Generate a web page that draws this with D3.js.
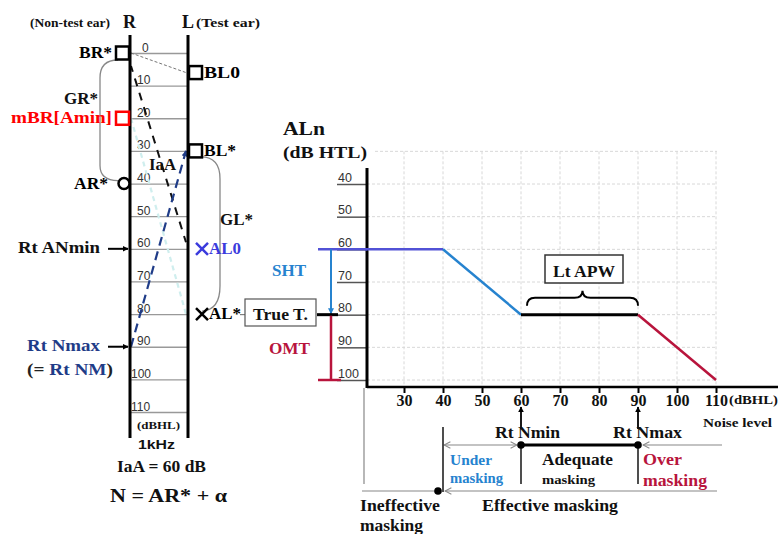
<!DOCTYPE html>
<html>
<head>
<meta charset="utf-8">
<script src="https://cdn.jsdelivr.net/npm/d3@7"></script>
<style>
body { margin: 0; background: #fff; }
svg text { font-family: "Liberation Serif", "Times New Roman", serif; font-weight: bold; }
.num text, text.num { font-family: "Liberation Sans", Arial, sans-serif; font-weight: normal; }
</style>
</head>
<body>
<svg id="chart"></svg>
<script>
// ---- data ----
var ladderTicks = [0, 10, 20, 30, 40, 50, 60, 70, 80, 90, 100, 110];
var ladderMarks = [
    {label: "BR*", side: "R", level: 0, symbol: "square"},
    {label: "BL0", side: "L", level: 6, symbol: "square"},
    {label: "mBR[Amin]", side: "R", level: 20, symbol: "square"},
    {label: "BL*", side: "L", level: 30, symbol: "square"},
    {label: "AR*", side: "R", level: 40, symbol: "circle"},
    {label: "AL0", side: "L", level: 60, symbol: "cross"},
    {label: "AL*", side: "L", level: 80, symbol: "cross"}
];
// dashed lines across the ladder: level on R side -> level on L side
var crossLines = [
    {from: 0, to: 6, kind: "thin"},
    {from: 20, to: 80, kind: "faint"},
    {from: 4, to: 58, kind: "iaa"},
    {from: 90, to: 30, kind: "noise"}
];
var rtArrows = [{label: "Rt ANmin", level: 60}, {label: "Rt Nmax", level: 90}];
var alnTicks = [40, 50, 60, 70, 80, 90, 100];
var gridLevels = [30, 40, 50, 60, 70, 80, 90, 100];
var noiseTicks = [30, 40, 50, 60, 70, 80, 90, 100, 110];
var maskCurve = [
    {noise: 20, aln: 60},
    {noise: 40, aln: 60},
    {noise: 60, aln: 80},
    {noise: 90, aln: 80},
    {noise: 110, aln: 100}
];
var curveColors = ["#5252d6", "#2683cf", "#000", "#b8143c"];
var shtRange = [60, 80];
var omtRange = [80, 100];
var ineffectiveEnd = 40, rtNmin = 60, rtNmax = 90;

var WIDTH = 778, HEIGHT = 534;
var svg = d3.select("#chart").attr("width", WIDTH).attr("height", HEIGHT);

var defs = svg.append("defs");
function arrowHead(id, color, open) {
    var m = defs.append("marker").attr("id", id)
        .attr("viewBox", "0 0 10 10").attr("refX", 9).attr("refY", 5)
        .attr("markerWidth", 6).attr("markerHeight", 6)
        .attr("markerUnits", "userSpaceOnUse")
        .attr("orient", "auto-start-reverse");
    if (open) {
        m.attr("markerWidth", 8).attr("markerHeight", 8);
        m.append("path").attr("d", "M1,1L9,5L1,9").attr("fill", "none").attr("stroke", color).attr("stroke-width", 1.3);
    } else {
        m.append("path").attr("d", "M0,0L10,5L0,10z").attr("fill", color);
    }
}
arrowHead("ahBlack", "#000");
arrowHead("ahNavy", "#1f3c88");
arrowHead("ahBlue", "#2683cf");
arrowHead("ahGray", "#888", true);

function txt(g, x, y, s, size, o) {
    o = o || {};
    var t = g.append("text").attr("x", x).attr("y", y)
        .attr("font-size", size).attr("fill", o.color || "#111").text(s);
    if (o.anchor) t.attr("text-anchor", o.anchor);
    if (o.w) t.attr("textLength", o.w).attr("lengthAdjust", "spacingAndGlyphs");
    if (o.cls) t.attr("class", o.cls);
    return t;
}

// ---- left: 1 kHz ladder ----
var ladderY = d3.scaleLinear().domain([0, 110]).range([53, 412]);
var sideX = {R: 130, L: 188};
var lg = svg.append("g");

var ladAxis = lg.append("g").attr("class", "num")
    .attr("transform", "translate(" + sideX.R + ",0)")
    .call(d3.axisRight(ladderY).tickValues(ladderTicks).tickSize(sideX.L - sideX.R));
ladAxis.select(".domain").remove();
ladAxis.selectAll(".tick line").attr("stroke", "#999").attr("stroke-width", 1.3);
ladAxis.selectAll(".tick text")
    .attr("x", function(d) { return d === 0 ? 12 : (d >= 100 ? 1 : 7); })
    .attr("dy", -2).attr("dominant-baseline", "auto")
    .attr("text-anchor", "start").attr("font-size", 12).attr("fill", "#333");

// brackets GR*, GL*
var gPath = d3.path();
gPath.moveTo(118, ladderY(0) + 7);
gPath.quadraticCurveTo(100, ladderY(0) + 7, 100, ladderY(0) + 25);
gPath.lineTo(100, ladderY(40) - 18);
gPath.quadraticCurveTo(100, ladderY(40) - 3, 118, ladderY(40) - 3);
lg.append("path").attr("d", gPath.toString()).attr("fill", "none").attr("stroke", "#888").attr("stroke-width", 1.3);
var gPath2 = d3.path();
gPath2.moveTo(201, ladderY(30) + 6);
gPath2.quadraticCurveTo(220, ladderY(30) + 6, 220, ladderY(30) + 28);
gPath2.lineTo(220, ladderY(80) - 28);
gPath2.quadraticCurveTo(220, ladderY(80) - 4, 202, ladderY(80) - 3);
lg.append("path").attr("d", gPath2.toString()).attr("fill", "none").attr("stroke", "#888").attr("stroke-width", 1.3);

// cross lines
crossLines.forEach(function(c) {
    var l = lg.append("line")
        .attr("x1", sideX.R + 1).attr("y1", ladderY(c.from))
        .attr("x2", sideX.L - 2).attr("y2", ladderY(c.to));
    if (c.kind === "thin") l.attr("stroke", "#777").attr("stroke-width", 1).attr("stroke-dasharray", "3,2");
    if (c.kind === "faint") l.attr("stroke", "#cfeeee").attr("stroke-width", 2.2).attr("stroke-dasharray", "5,4");
    if (c.kind === "iaa") l.attr("stroke", "#111").attr("stroke-width", 2).attr("stroke-dasharray", "8,7").attr("stroke-dashoffset", 2);
    if (c.kind === "noise") l.attr("stroke", "#1f3c88").attr("stroke-width", 2.2).attr("stroke-dasharray", "9,6").attr("marker-end", "url(#ahNavy)");
});

// ladder verticals
["R", "L"].forEach(function(s) {
    lg.append("line").attr("x1", sideX[s]).attr("x2", sideX[s]).attr("y1", 35).attr("y2", 438)
        .attr("stroke", "#000").attr("stroke-width", 3);
});

// marks
var markColor = {"mBR[Amin]": "#ff0000", "AL0": "#3b3bdd"};
ladderMarks.forEach(function(m) {
    var y = ladderY(m.level), col = markColor[m.label] || "#000";
    if (m.symbol === "square") {
        var x = m.side === "R" ? sideX.R - 14 : sideX.L + 1;
        lg.append("rect").attr("x", x).attr("y", y - 6.5).attr("width", 13).attr("height", 13)
            .attr("fill", "#fff").attr("stroke", col).attr("stroke-width", 2.5);
    } else if (m.symbol === "circle") {
        lg.append("circle").attr("cx", sideX.R - 6).attr("cy", y).attr("r", 5.5)
            .attr("fill", "#fff").attr("stroke", col).attr("stroke-width", 2.5);
    } else {
        var cx = sideX.L + 14;
        lg.append("path").attr("d", "M" + (cx - 6) + "," + (y - 6) + "L" + (cx + 6) + "," + (y + 6) +
            "M" + (cx - 6) + "," + (y + 6) + "L" + (cx + 6) + "," + (y - 6))
            .attr("stroke", col).attr("stroke-width", 2.5);
    }
    var w = {"BR*": 33, "BL0": 36, "mBR[Amin]": 101, "BL*": 32, "AR*": 34, "AL0": 32, "AL*": 32}[m.label];
    if (m.side === "R") {
        txt(lg, m.symbol === "circle" ? 108 : 112, y + 5, m.label, m.label === "mBR[Amin]" ? 17 : 16,
            {anchor: "end", w: w, color: col});
    } else {
        txt(lg, m.symbol === "cross" ? 209 : 204, y + 5, m.label, 16, {w: w, color: col});
    }
});

// arrows into R
rtArrows.forEach(function(a) {
    var y = ladderY(a.level);
    lg.append("line").attr("x1", 108).attr("x2", sideX.R - 2).attr("y1", y).attr("y2", y)
        .attr("stroke", "#000").attr("stroke-width", 2).attr("marker-end", "url(#ahBlack)");
    txt(lg, a.level === 60 ? 18 : 27, y + 4, a.label, 16,
        {w: a.level === 60 ? 82 : 73, color: a.level === 60 ? "#111" : "#1f3c88"});
});
var nm = txt(lg, 27, 375, "", 16, {w: 86});
nm.append("tspan").attr("fill", "#222").text("(= ");
nm.append("tspan").attr("fill", "#1f3c88").text("Rt NM");
nm.append("tspan").attr("fill", "#222").text(")");

txt(lg, 30, 27, "(Non-test ear)", 13, {w: 80});
txt(lg, 123, 28, "R", 18);
txt(lg, 182, 28, "L", 18);
txt(lg, 196, 27, "(Test ear)", 13, {w: 64});
txt(lg, 64, 104, "GR*", 16, {w: 34});
txt(lg, 149, 170, "IaA", 16, {w: 27});
txt(lg, 220, 225, "GL*", 16, {w: 33});
txt(lg, 137, 429, "(dBHL)", 11, {w: 43});
txt(lg, 138, 449, "1kHz", 13, {w: 37, cls: "num"}).style("font-weight", "bold");
txt(lg, 117, 472, "IaA = 60 dB", 17, {w: 89});
txt(lg, 110, 502, "N = AR* + \u03b1", 19, {w: 117});

// ---- right: masking curve ----
var yR = d3.scaleLinear().domain([40, 100]).range([184, 380]);
var xN = d3.scaleLinear().domain([60, 110]).range([521, 716]);
var axisX = xN(20) + 2, axisY = 387;
var rg = svg.append("g");

// grid
rg.selectAll(".vg").data(noiseTicks).enter().append("line")
    .attr("x1", function(d) { return xN(d); }).attr("x2", function(d) { return xN(d); })
    .attr("y1", yR(30)).attr("y2", axisY)
    .attr("stroke", "#d8d8d8").attr("stroke-dasharray", "3,2");
rg.selectAll(".hg").data(gridLevels).enter().append("line")
    .attr("x1", function(d) { return d < 40 ? axisX + 8 : axisX; }).attr("x2", xN(110) + 1)
    .attr("y1", function(d) { return yR(d); }).attr("y2", function(d) { return yR(d); })
    .attr("stroke", "#d8d8d8").attr("stroke-dasharray", "3,2");

// y axis ticks
var yAx = rg.append("g").attr("class", "num").attr("transform", "translate(" + (axisX - 1) + ",0)")
    .call(d3.axisLeft(yR).tickValues(alnTicks).tickSize(29));
yAx.select(".domain").remove();
yAx.selectAll(".tick line").attr("stroke", "#555").attr("stroke-width", 1.5);
yAx.selectAll(".tick text").attr("x", -28).attr("dy", -3).attr("dominant-baseline", "auto")
    .attr("text-anchor", "start").attr("font-size", 12.5).attr("fill", "#333");

// x axis ticks
var xAx = rg.append("g").attr("transform", "translate(0," + axisY + ")")
    .call(d3.axisBottom(xN).tickValues(noiseTicks).tickSize(6));
xAx.select(".domain").remove();
xAx.selectAll(".tick line").attr("stroke", "#000").attr("stroke-width", 2);
xAx.selectAll(".tick text").attr("y", 19).attr("dy", 0).attr("font-size", 16)
    .attr("font-family", "Liberation Serif, serif").attr("font-weight", "bold").attr("fill", "#111");

// axes lines
rg.append("line").attr("x1", axisX).attr("x2", axisX).attr("y1", 168).attr("y2", axisY + 1)
    .attr("stroke", "#000").attr("stroke-width", 3);
rg.append("line").attr("x1", axisX).attr("x2", WIDTH).attr("y1", axisY).attr("y2", axisY)
    .attr("stroke", "#000").attr("stroke-width", 2.5);

// curve segments
var line = d3.line().x(function(d) { return xN(d.noise); }).y(function(d) { return yR(d.aln); });
for (var i = 0; i < maskCurve.length - 1; i++) {
    rg.append("path").attr("d", line([maskCurve[i], maskCurve[i + 1]]))
        .attr("fill", "none").attr("stroke", curveColors[i])
        .attr("stroke-width", i === 2 ? 3 : 2.5).attr("stroke-linecap", "butt");
}

// SHT / True T. / OMT markers
var bx = 331;
rg.append("line").attr("x1", 318).attr("x2", axisX).attr("y1", yR(shtRange[0])).attr("y2", yR(shtRange[0]))
    .attr("stroke", curveColors[0]).attr("stroke-width", 2.5);
rg.append("line").attr("x1", bx).attr("x2", bx).attr("y1", yR(shtRange[0])).attr("y2", yR(shtRange[1]) - 1)
    .attr("stroke", "#2683cf").attr("stroke-width", 2).attr("marker-end", "url(#ahBlue)");
rg.append("line").attr("x1", 317).attr("x2", 338).attr("y1", yR(shtRange[1])).attr("y2", yR(shtRange[1]))
    .attr("stroke", "#000").attr("stroke-width", 3);
rg.append("line").attr("x1", bx).attr("x2", bx).attr("y1", yR(omtRange[0]) + 1).attr("y2", yR(omtRange[1]))
    .attr("stroke", "#b8143c").attr("stroke-width", 2.5);
rg.append("line").attr("x1", 318).attr("x2", 341).attr("y1", yR(omtRange[1])).attr("y2", yR(omtRange[1]))
    .attr("stroke", "#b8143c").attr("stroke-width", 2.5);

txt(rg, 283, 135, "ALn", 19, {w: 42});
txt(rg, 283, 158, "(dB HTL)", 16, {w: 84});
txt(rg, 272, 276, "SHT", 16, {w: 34, color: "#2683cf"});
txt(rg, 269, 354, "OMT", 16, {w: 41, color: "#b8143c"});
rg.append("line").attr("x1", 240).attr("x2", 245).attr("y1", yR(80)).attr("y2", yR(80)).attr("stroke", "#666");
rg.append("rect").attr("x", 245).attr("y", 299).attr("width", 71).attr("height", 27)
    .attr("fill", "#fff").attr("stroke", "#555").attr("stroke-width", 1.2);
txt(rg, 253, 320, "True T.", 16, {w: 55});

// Lt APW
rg.append("rect").attr("x", 545).attr("y", 255).attr("width", 78).attr("height", 28)
    .attr("fill", "#fff").attr("stroke", "#333").attr("stroke-width", 1.5);
txt(rg, 553, 277, "Lt APW", 16, {w: 62});
var bL = xN(rtNmin) + 6, bR = xN(rtNmax), bM = (bL + bR) / 2, bB = yR(80) - 9;
rg.append("path").attr("d",
    "M" + bL + "," + bB + "Q" + bL + "," + (bB - 8) + " " + (bL + 8) + "," + (bB - 8) +
    "L" + (bM - 8) + "," + (bB - 8) + "Q" + bM + "," + (bB - 8) + " " + bM + "," + (bB - 15) +
    "Q" + bM + "," + (bB - 8) + " " + (bM + 8) + "," + (bB - 8) +
    "L" + (bR - 8) + "," + (bB - 8) + "Q" + bR + "," + (bB - 8) + " " + bR + "," + bB)
    .attr("fill", "none").attr("stroke", "#000").attr("stroke-width", 2);

txt(rg, 729, 404, "(dBHL)", 12.5, {w: 49});
txt(rg, 703, 427, "Noise level", 13, {w: 69});

// masking ranges below
[rtNmin, rtNmax].forEach(function(v) {
    rg.append("line").attr("x1", xN(v)).attr("x2", xN(v)).attr("y1", 429).attr("y2", 407)
        .attr("stroke", "#000").attr("stroke-width", 1.8).attr("marker-end", "url(#ahBlack)");
    rg.append("line").attr("x1", xN(v)).attr("x2", xN(v)).attr("y1", 445).attr("y2", 484)
        .attr("stroke", "#222").attr("stroke-width", 1.6);
});
txt(rg, 495, 438, "Rt Nmin", 16, {w: 65});
txt(rg, 613, 438, "Rt Nmax", 16, {w: 69});
rg.append("line").attr("x1", xN(rtNmin)).attr("x2", xN(rtNmax)).attr("y1", 445).attr("y2", 445)
    .attr("stroke", "#000").attr("stroke-width", 3);
rg.append("line").attr("x1", xN(ineffectiveEnd) + 1).attr("x2", xN(rtNmin) - 4).attr("y1", 445).attr("y2", 445)
    .attr("stroke", "#888").attr("stroke-width", 1.2)
    .attr("marker-start", "url(#ahGray)").attr("marker-end", "url(#ahGray)");
rg.append("line").attr("x1", 722).attr("x2", xN(rtNmax) + 5).attr("y1", 445).attr("y2", 445)
    .attr("stroke", "#888").attr("stroke-width", 1.2).attr("marker-end", "url(#ahGray)");
rg.append("line").attr("x1", xN(ineffectiveEnd)).attr("x2", xN(ineffectiveEnd)).attr("y1", 427).attr("y2", 492)
    .attr("stroke", "#222").attr("stroke-width", 1.6);
rg.append("line").attr("x1", 364).attr("x2", 364).attr("y1", axisY + 1).attr("y2", 484)
    .attr("stroke", "#888").attr("stroke-width", 1.2);
rg.append("line").attr("x1", 717).attr("x2", xN(ineffectiveEnd) + 2).attr("y1", 491).attr("y2", 491)
    .attr("stroke", "#888").attr("stroke-width", 1.2).attr("marker-end", "url(#ahGray)");
rg.append("line").attr("x1", 362).attr("x2", 437).attr("y1", 491).attr("y2", 491)
    .attr("stroke", "#888").attr("stroke-width", 1.2);
[[xN(rtNmin), 445], [xN(rtNmax), 445], [438, 491]].forEach(function(p) {
    rg.append("circle").attr("cx", p[0]).attr("cy", p[1]).attr("r", 3.8).attr("fill", "#000");
});

txt(rg, 450, 465, "Under", 15, {w: 42, color: "#2683cf"});
txt(rg, 450, 483, "masking", 15, {w: 53, color: "#2683cf"});
txt(rg, 542, 465, "Adequate", 16, {w: 71});
txt(rg, 542, 484, "masking", 13, {w: 53});
txt(rg, 643, 465, "Over", 16, {w: 39, color: "#b8143c"});
txt(rg, 643, 486, "masking", 16, {w: 64, color: "#b8143c"});
txt(rg, 360, 511, "Ineffective", 16, {w: 80});
txt(rg, 360, 531, "masking", 16, {w: 63});
txt(rg, 482, 511, "Effective masking", 16, {w: 136});
</script>
</body>
</html>
